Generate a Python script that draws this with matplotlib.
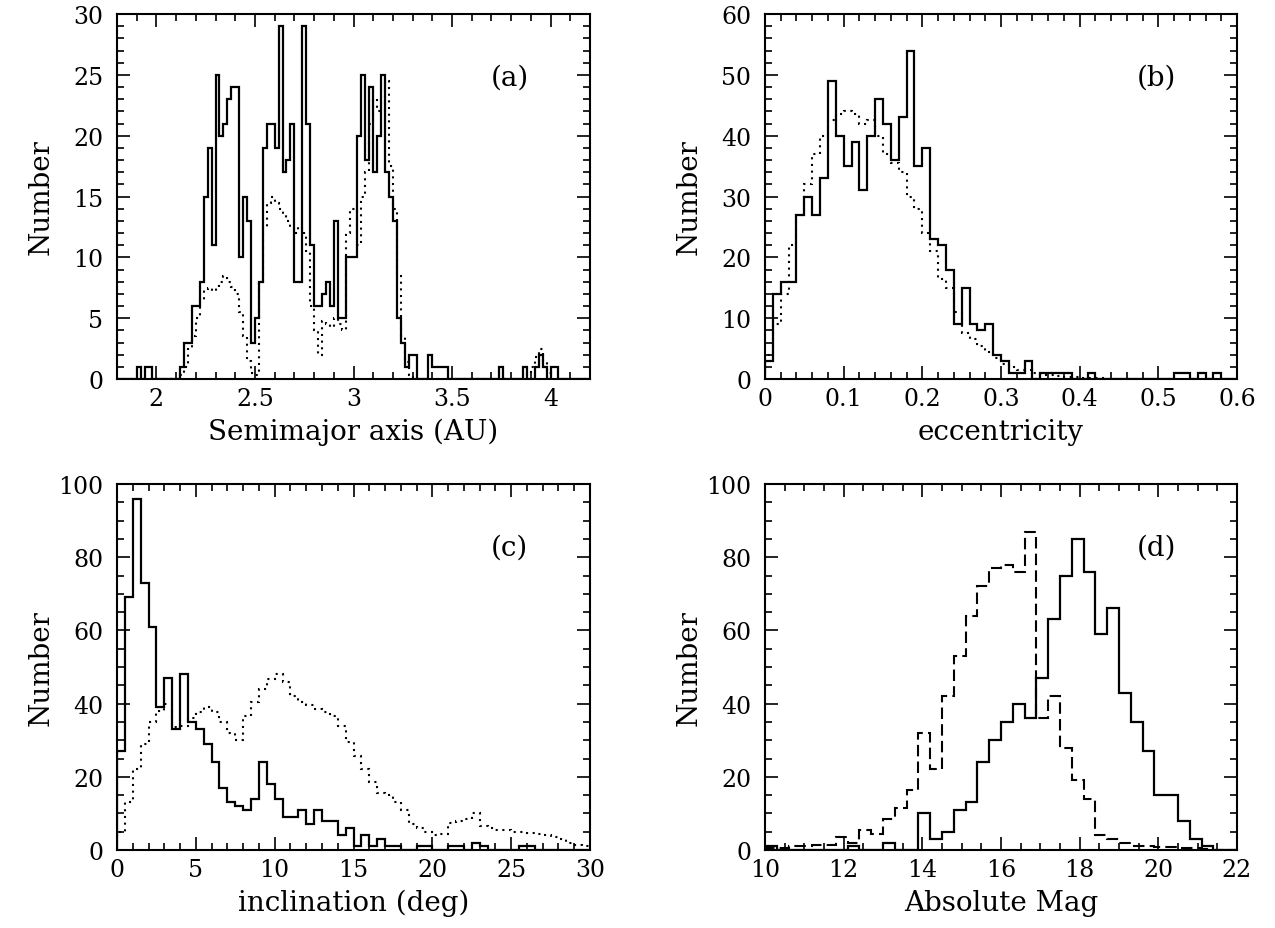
import matplotlib
matplotlib.use("Agg")
import matplotlib.pyplot as plt
import numpy as np
from matplotlib.ticker import MultipleLocator, FuncFormatter

matplotlib.rcParams.update({
    "font.family": "DejaVu Serif",
    "font.size": 17,
    "axes.linewidth": 1.5,
})

# (a) semimajor axis, 0.02 AU bins from 1.8 to 4.2
A_START, A_WIDTH = 1.8, 0.02
a_solid = [
    0, 0, 0, 0, 0, 1, 0, 1, 1, 0, 0, 0, 0, 0, 0, 0, 1, 3, 3, 6,
    6, 8, 15, 19, 11, 25, 20, 21, 23, 24, 24, 10, 15, 13, 3, 5, 8, 19, 21, 21,
    19, 29, 17, 18, 21, 8, 8, 29, 21, 11, 6, 6, 7, 8, 6, 13, 5, 5, 10, 10,
    10, 20, 25, 18, 24, 17, 20, 25, 17, 15, 13, 5, 3, 1, 2, 2, 0, 0, 0, 2,
    1, 1, 1, 1, 0, 0, 0, 0, 0, 0, 0, 0, 0, 0, 0, 0, 0, 1, 0, 0,
    0, 0, 0, 1, 0, 0, 1, 2, 1, 0, 1, 1, 0, 0, 0, 0, 0, 0, 0, 0,
]
a_dotted = [
    0, 0, 0, 0, 0, 0, 0, 0, 0, 0, 0, 0, 0, 0, 0, 0, 0.3, 1, 2.5, 3.5,
    5, 6.5, 7.3, 7.5, 7.2, 7.6, 8, 8.5, 8, 7.6, 7, 5.5, 3.5, 1.5, 0.5, 0.3, 8, 12.5, 14.5, 15,
    14.5, 14, 13.5, 13, 12.5, 12, 12.5, 12, 10.5, 6, 4, 2, 4.8, 4.5, 4.3, 5, 4.5, 4, 12, 14,
    14, 11, 15, 17, 21, 23, 22, 22, 24.5, 17.5, 14, 8.5, 3.5, 1.4, 0.3, 0, 0, 0, 0, 0,
    0, 0, 0, 0, 0, 0, 0, 0, 0, 0, 0, 0, 0, 0, 0, 0, 0, 0, 0, 0,
    0, 0, 0, 0, 0.5, 1, 1.8, 2.5, 1.5, 0.5, 0, 0, 0, 0, 0, 0, 0, 0, 0, 0,
]

# (b) eccentricity, 0.01 bins from 0 to 0.6
E_START, E_WIDTH = 0.0, 0.01
e_solid = [
    3, 14, 16, 16, 27, 30, 27, 33, 49, 40, 35, 39, 31, 40, 46, 42, 36, 43, 54, 35,
    38, 23, 22, 18, 9, 15, 9, 8, 9, 4, 3, 1, 1, 3, 0, 1, 1, 1, 1, 0,
    0, 1, 0, 0, 0, 0, 0, 0, 0, 0, 0, 0, 1, 1, 0, 1, 0, 1, 0, 0,
]
e_dotted = [
    4, 9, 14, 22, 27, 32, 37, 40, 42.5, 43.5, 44, 43.5, 42, 42.5, 40, 37, 35.5, 34, 30, 28,
    24, 21, 16.5, 15, 11, 7.5, 6.5, 5.5, 4.5, 3.5, 2.5, 2, 1.5, 1.5, 1, 0.7, 0.6, 0.5, 0.4, 0.3,
    0.2, 0.2, 0.1, 0, 0, 0, 0, 0, 0, 0, 0, 0, 0, 0, 0, 0, 0, 0, 0, 0,
]

# (c) inclination, 0.5 deg bins from 0 to 30
I_START, I_WIDTH = 0.0, 0.5
i_solid = [
    27, 69, 96, 73, 61, 39, 47, 33, 48, 35, 33, 29, 24, 17, 13, 12, 11, 14, 24, 18,
    14, 9, 9, 11, 7, 11, 8, 8, 4, 6, 1, 4, 1, 3, 1, 1, 0, 0, 1, 1,
    0, 0, 1, 1, 0, 2, 1, 0, 0, 0, 0, 1, 1, 0, 0, 0, 0, 0, 0, 0,
]
i_dotted = [
    5, 13, 22, 29, 35, 38, 40, 33.5, 34, 36, 37.7, 39, 37.7, 35, 32, 30, 36.7, 40.4, 44, 46.8,
    48.2, 45.9, 42.2, 40.4, 39.5, 38.6, 37.7, 36.7, 34, 29.4, 25.8, 22, 18.5, 15.7, 15, 13, 11, 7, 6, 5,
    4, 4.5, 7.5, 8, 8.5, 10, 6.5, 6, 5.5, 5.5, 5, 4.8, 4.6, 4.4, 4, 3.5, 3, 2, 1.5, 1,
]

# (d) absolute magnitude, 0.3 mag bins from 10 to 22
H_START, H_WIDTH = 10.0, 0.3
h_solid = [
    1, 0, 0, 0, 0, 0, 0, 1, 0, 0, 2, 0, 0, 10, 3, 5, 11, 13, 24, 30,
    35, 40, 36, 47, 63, 75, 85, 76, 59, 66, 43, 35, 27, 15, 15, 8, 3, 1, 0, 0,
]
h_dashed = [
    0.5, 0.5, 1, 1, 1.5, 1.5, 3.5, 2, 5.5, 4.5, 8.5, 11.5, 16.5, 32, 22, 42, 53, 64, 72, 77,
    78, 76, 87, 36, 42, 28, 19, 14, 4, 3, 2, 1.2, 1, 0.8, 0.8, 0.5, 0.5, 0.3, 0, 0,
]

DOT = (0, (1, 2.2))
DASH = (0, (5.5, 2.5))
fmt = FuncFormatter(lambda v, _: f"{v:g}")


def edges(start, width, n):
    return start + width * np.arange(n + 1)


def style(ax, xlim, ylim, xmaj, xmin, ymaj, ymin, xlabel, tag):
    ax.set_xlim(*xlim)
    ax.set_ylim(*ylim)
    ax.xaxis.set_major_locator(MultipleLocator(xmaj))
    ax.xaxis.set_minor_locator(MultipleLocator(xmin))
    ax.yaxis.set_major_locator(MultipleLocator(ymaj))
    ax.yaxis.set_minor_locator(MultipleLocator(ymin))
    ax.xaxis.set_major_formatter(fmt)
    ax.yaxis.set_major_formatter(fmt)
    ax.tick_params(which="both", direction="in", top=True, right=True, width=1.2)
    ax.tick_params(which="major", length=9.5)
    ax.tick_params(which="minor", length=4.8)
    ax.tick_params(axis="x", pad=6)
    ax.tick_params(axis="y", pad=10)
    ax.set_xlabel(xlabel, fontsize=20, va="center")
    ax.xaxis.set_label_coords(0.5, -52 / 365)
    ax.set_ylabel("Number", fontsize=20, va="center")
    ax.yaxis.set_label_coords(-0.161, 0.5)
    ax.text(0.83, 0.828, tag, transform=ax.transAxes, ha="center", va="center", fontsize=20)


fig = plt.figure(figsize=(12.75, 9.29), dpi=100)
W, H = 1275, 929


def add_axes(x0, x1, y0, y1):
    return fig.add_axes([x0 / W, 1 - y1 / H, (x1 - x0) / W, (y1 - y0) / H])


ax_a = add_axes(117, 590, 15, 380)
ax_b = add_axes(765, 1237, 15, 380)
ax_c = add_axes(117, 590, 485, 851)
ax_d = add_axes(765, 1237, 485, 851)

ax_a.stairs(a_dotted, edges(A_START, A_WIDTH, len(a_dotted)), color="black", lw=1.5, ls=DOT)
ax_a.stairs(a_solid, edges(A_START, A_WIDTH, len(a_solid)), color="black", lw=1.6)
style(ax_a, (1.8, 4.2), (0, 30), 0.5, 0.1, 5, 1, "Semimajor axis (AU)", "(a)")

ax_b.stairs(e_dotted, edges(E_START, E_WIDTH, len(e_dotted)), color="black", lw=1.5, ls=DOT)
ax_b.stairs(e_solid, edges(E_START, E_WIDTH, len(e_solid)), color="black", lw=1.6)
style(ax_b, (0, 0.6), (0, 60), 0.1, 0.02, 10, 2, "eccentricity", "(b)")

ax_c.stairs(i_dotted, edges(I_START, I_WIDTH, len(i_dotted)), color="black", lw=1.5, ls=DOT)
ax_c.stairs(i_solid, edges(I_START, I_WIDTH, len(i_solid)), color="black", lw=1.6)
style(ax_c, (0, 30), (0, 100), 5, 1, 20, 5, "inclination (deg)", "(c)")

ax_d.stairs(h_dashed, edges(H_START, H_WIDTH, len(h_dashed)), color="black", lw=1.5, ls=DASH)
ax_d.stairs(h_solid, edges(H_START, H_WIDTH, len(h_solid)), color="black", lw=1.6)
style(ax_d, (10, 22), (0, 100), 2, 0.5, 20, 5, "Absolute Mag", "(d)")

fig.savefig("out.png", dpi=100, facecolor="white")
